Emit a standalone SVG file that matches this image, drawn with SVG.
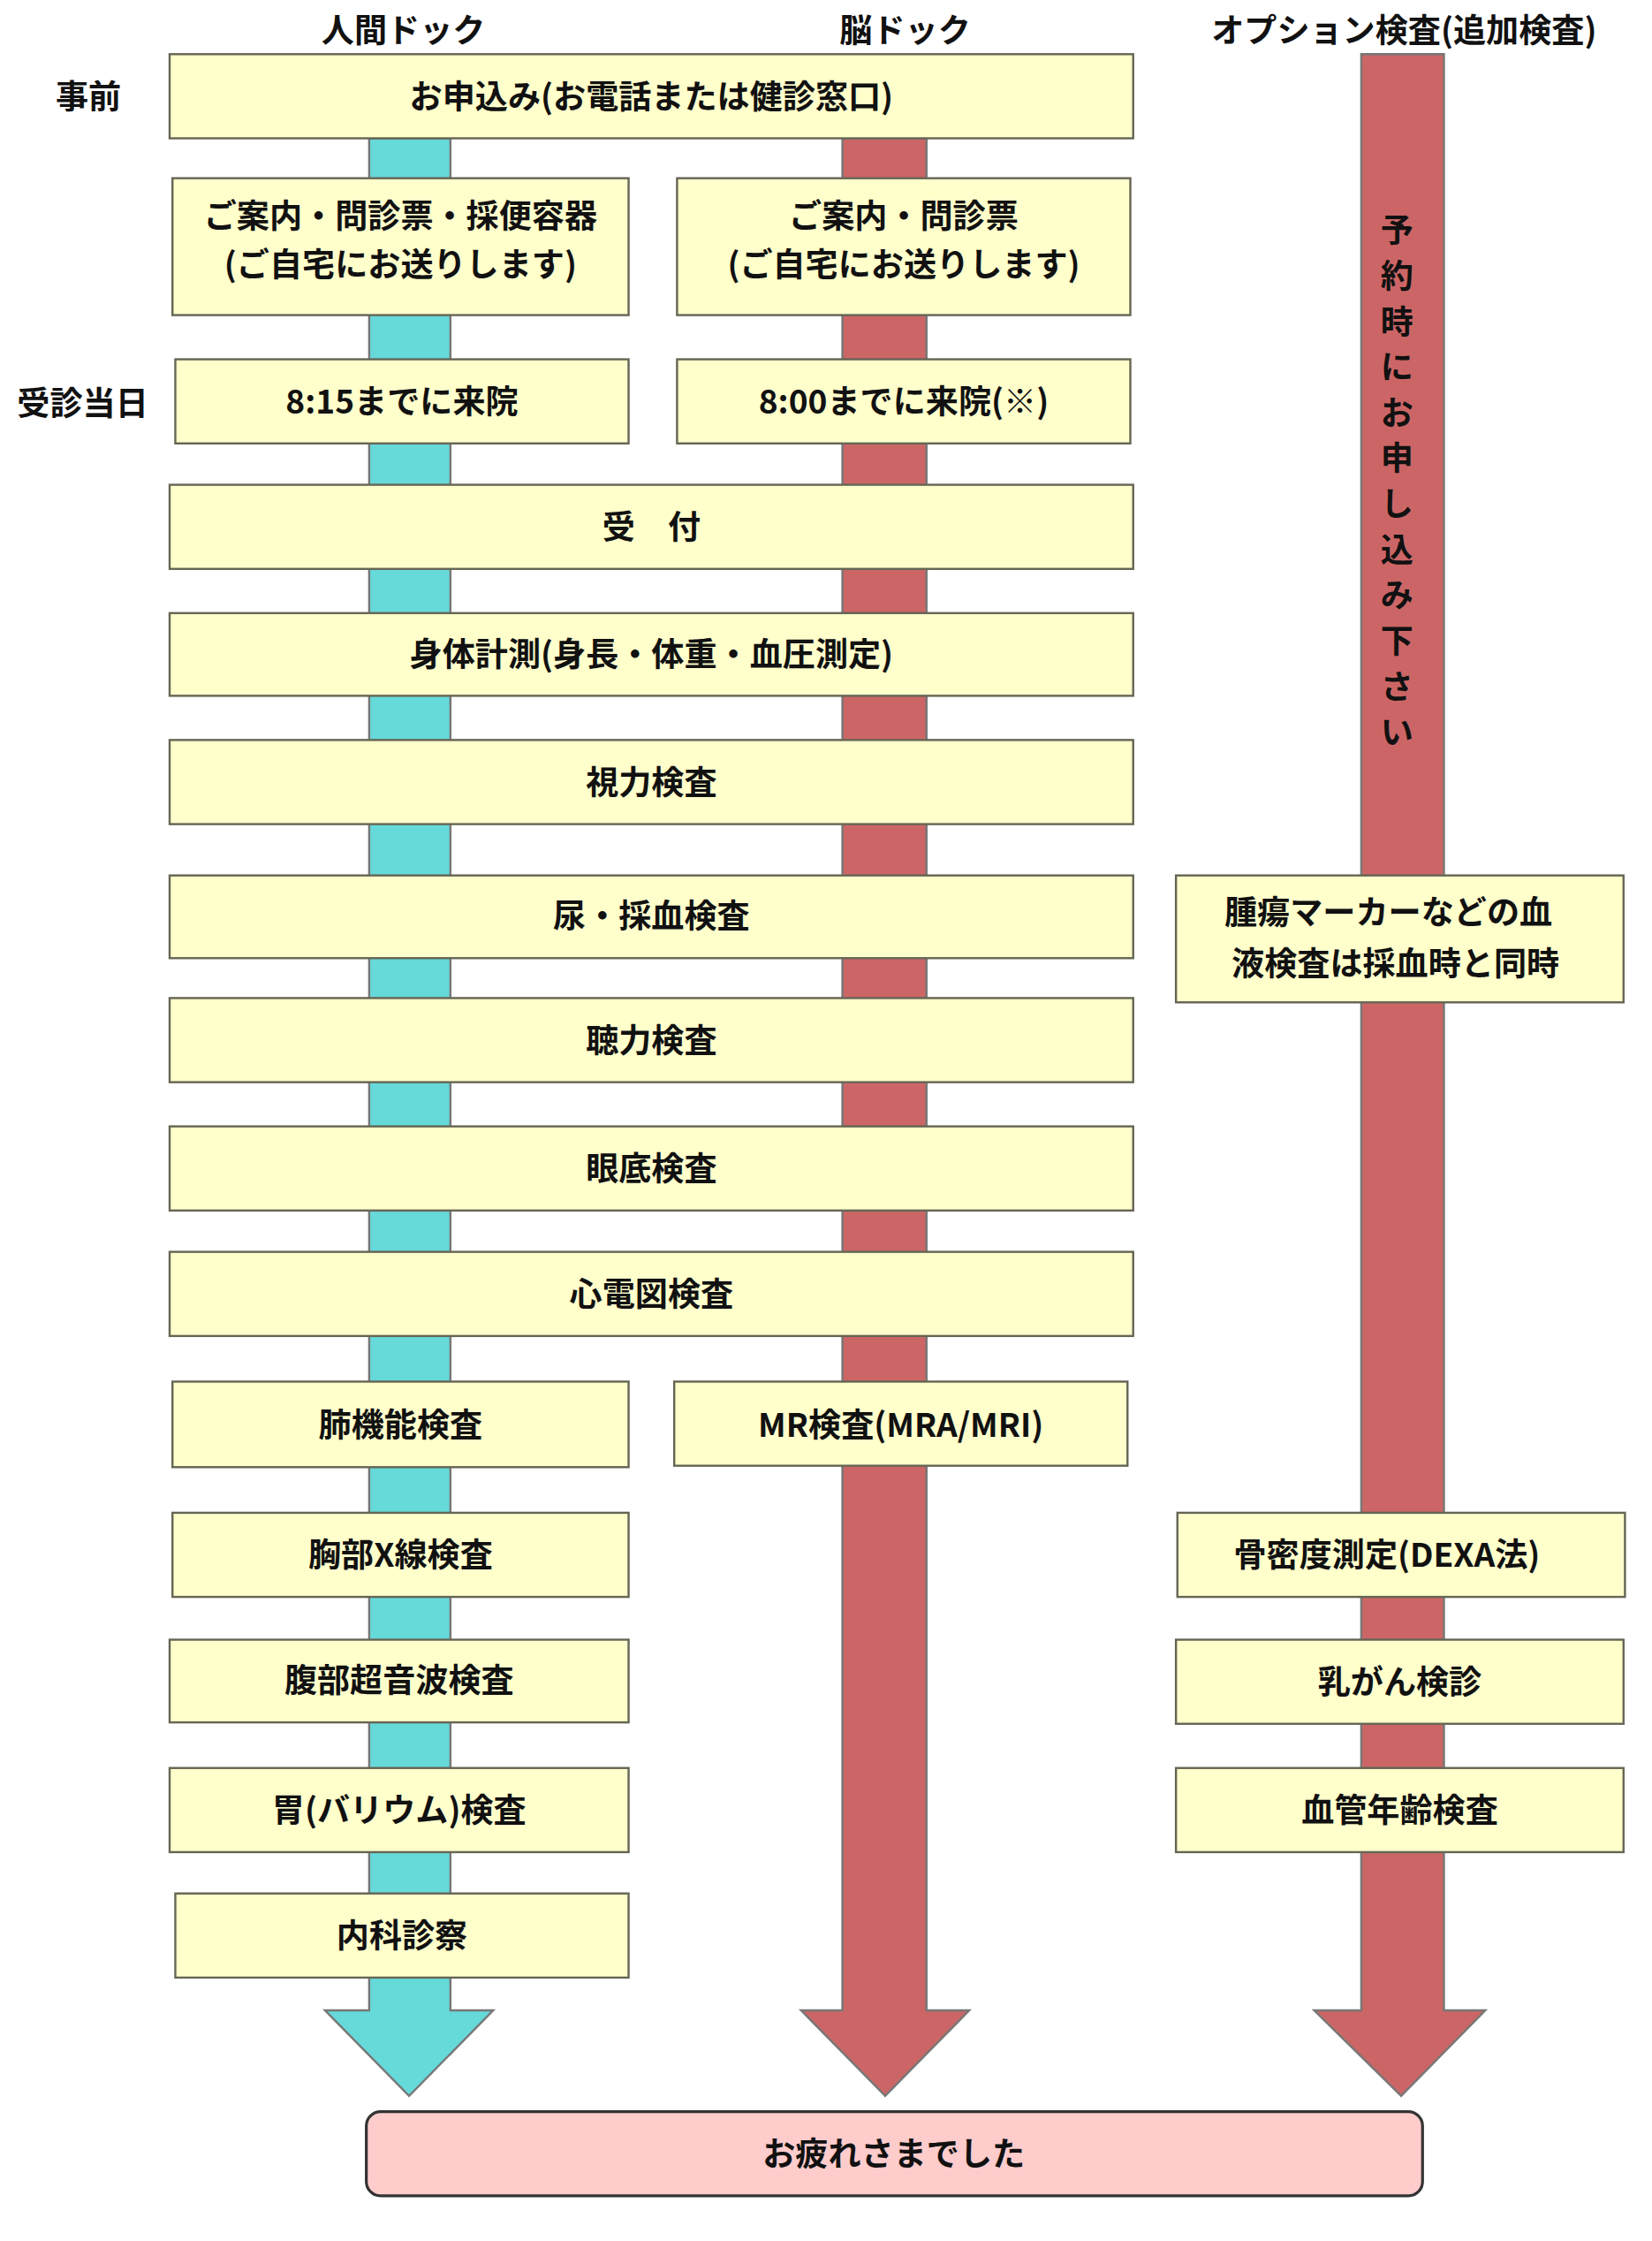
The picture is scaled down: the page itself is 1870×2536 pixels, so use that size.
<svg xmlns="http://www.w3.org/2000/svg" width="1870" height="2536" viewBox="0 0 1870 2536">
<style>
.b{fill:#ffffcc;stroke:#666655;stroke-width:1.5}
.t{font-family:"Noto Sans CJK JP",sans-serif;font-weight:bold;font-size:23px;text-anchor:middle;fill:#111}
.c{fill:#66d9d9;stroke:#777;stroke-width:1.5}
.r{fill:#cc6666;stroke:#777;stroke-width:1.5}
</style>
<rect width="1870" height="2536" fill="#fff"/>
<g transform="scale(1.6135,1.6135)">
<g id="connectors">
<path class="c" d="M259,97 V1410 H228 L287,1470 L346,1410 H316 V97 Z"/>
<path class="r" d="M591,97 V1410 H562 L621,1470 L680,1410 H650 V97 Z"/>
<path class="r" d="M955,38 V1410 H922 L983,1470 L1042,1410 H1013 V38 Z"/>
</g>
<g id="headers">
<text class="t" x="283" y="30">人間ドック</text>
<text class="t" x="635" y="30">脳ドック</text>
<text class="t" x="985" y="30">オプション検査(追加検査)</text>
<text class="t" x="62" y="76">事前</text>
<text class="t" x="58" y="291">受診当日</text>
</g>
<g id="vtext" class="t">
<text x="980" y="170">予</text><text x="980" y="202">約</text><text x="980" y="234">時</text><text x="980" y="266">に</text><text x="980" y="298">お</text><text x="980" y="330">申</text><text x="980" y="362">し</text><text x="980" y="394">込</text><text x="980" y="426">み</text><text x="980" y="458">下</text><text x="980" y="490">さ</text><text x="980" y="522">い</text>
</g>
<g id="n1"><rect class="b" x="119" y="38" width="676" height="59"/><text class="t" x="457" y="76">お申込み(お電話または健診窓口)</text></g>
<g id="n2"><rect class="b" x="121" y="125" width="320" height="96"/><text class="t" x="281" y="160">ご案内・問診票・採便容器</text><text class="t" x="281" y="194">(ご自宅にお送りします)</text></g>
<g id="n3"><rect class="b" x="475" y="125" width="318" height="96"/><text class="t" x="634" y="160">ご案内・問診票</text><text class="t" x="634" y="194">(ご自宅にお送りします)</text></g>
<g id="n4"><rect class="b" x="123" y="252" width="318" height="59"/><text class="t" x="282" y="290">8:15までに来院</text></g>
<g id="n5"><rect class="b" x="475" y="252" width="318" height="59"/><text class="t" x="634" y="290">8:00までに来院(※)</text></g>
<g id="n6"><rect class="b" x="119" y="340" width="676" height="59"/><text class="t" x="457" y="378">受　付</text></g>
<g id="n7"><rect class="b" x="119" y="430" width="676" height="58"/><text class="t" x="457" y="467">身体計測(身長・体重・血圧測定)</text></g>
<g id="n8"><rect class="b" x="119" y="519" width="676" height="59"/><text class="t" x="457" y="557">視力検査</text></g>
<g id="n9"><rect class="b" x="119" y="614" width="676" height="58"/><text class="t" x="457" y="651">尿・採血検査</text></g>
<g id="n10"><rect class="b" x="825" y="614" width="314" height="89"/><text class="t" x="974" y="648">腫瘍マーカーなどの血</text><text class="t" x="979" y="684">液検査は採血時と同時</text></g>
<g id="n11"><rect class="b" x="119" y="700" width="676" height="59"/><text class="t" x="457" y="738">聴力検査</text></g>
<g id="n12"><rect class="b" x="119" y="790" width="676" height="59"/><text class="t" x="457" y="828">眼底検査</text></g>
<g id="n13"><rect class="b" x="119" y="878" width="676" height="59"/><text class="t" x="457" y="916">心電図検査</text></g>
<g id="n14"><rect class="b" x="121" y="969" width="320" height="60"/><text class="t" x="281" y="1008">肺機能検査</text></g>
<g id="n15"><rect class="b" x="473" y="969" width="318" height="59"/><text class="t" x="632" y="1008">MR検査(MRA/MRI)</text></g>
<g id="n16"><rect class="b" x="121" y="1061" width="320" height="59"/><text class="t" x="281" y="1099">胸部X線検査</text></g>
<g id="n17"><rect class="b" x="826" y="1061" width="314" height="59"/><text class="t" x="973" y="1099">骨密度測定(DEXA法)</text></g>
<g id="n18"><rect class="b" x="119" y="1150" width="322" height="58"/><text class="t" x="280" y="1187">腹部超音波検査</text></g>
<g id="n19"><rect class="b" x="825" y="1150" width="314" height="59"/><text class="t" x="982" y="1188">乳がん検診</text></g>
<g id="n20"><rect class="b" x="119" y="1240" width="322" height="59"/><text class="t" x="280" y="1278">胃(バリウム)検査</text></g>
<g id="n21"><rect class="b" x="825" y="1240" width="314" height="59"/><text class="t" x="982" y="1278">血管年齢検査</text></g>
<g id="n22"><rect class="b" x="123" y="1328" width="318" height="59"/><text class="t" x="282" y="1366">内科診察</text></g>
<g id="n23"><rect x="257" y="1481" width="741" height="59" rx="10" fill="#ffcccc" stroke="#333" stroke-width="2"/><text class="t" x="627" y="1519">お疲れさまでした</text></g>
</g>
</svg>
